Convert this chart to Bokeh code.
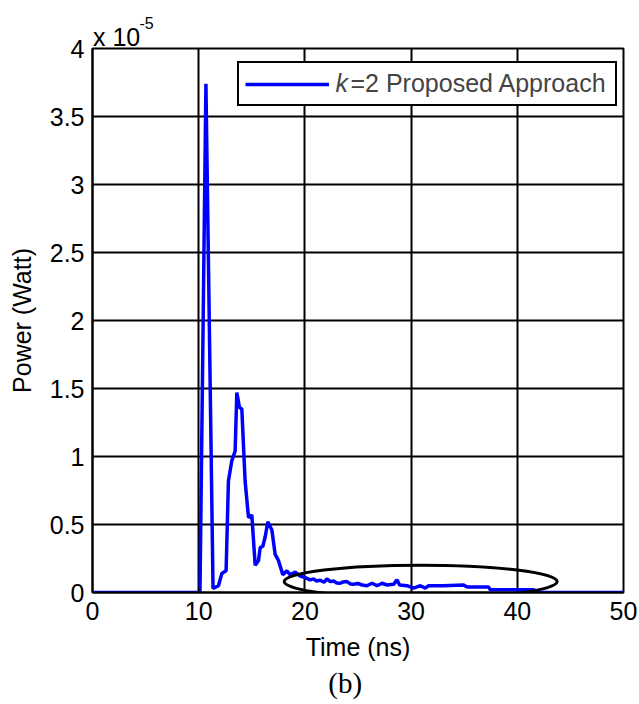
from bokeh.plotting import figure
from bokeh.models import Legend, LegendItem, FixedTicker, Range1d
from bokeh.core.properties import value
from bokeh.embed import file_html
from bokeh.resources import INLINE

# Received power of the k=2 approach, in units of 1e-5 W, against time in ns
time_ns = [0.0, 10.12, 10.68, 11.35, 11.86, 12.18, 12.58, 12.8, 13.12, 13.43,
           13.59, 13.84, 14.06, 14.37, 14.69, 15.0, 15.32, 15.63, 15.79, 16.04,
           16.26, 16.51, 16.89, 17.2, 17.51, 17.92, 18.3, 18.61, 19.09, 19.56,
           20.03, 20.5, 20.81, 21.1, 21.44, 21.8, 22.07, 22.4, 22.7, 23.0,
           23.33, 23.6, 23.96, 24.3, 24.58, 25.0, 25.4, 25.84, 26.31, 26.79,
           27.26, 27.73, 28.35, 28.67, 28.92, 29.61, 30.24, 30.87, 31.34, 31.65,
           33.0, 34.95, 35.27, 37.3, 37.46, 41.55, 42.18, 50.0]
power_e5 = [0.0, 0.0, 3.74, 0.03, 0.05, 0.14, 0.16, 0.82, 0.97, 1.04,
            1.47, 1.36, 1.35, 0.82, 0.55, 0.57, 0.2, 0.235, 0.33, 0.34,
            0.41, 0.52, 0.46, 0.28, 0.235, 0.13, 0.16, 0.13, 0.15, 0.12,
            0.11, 0.093, 0.1, 0.085, 0.09, 0.075, 0.1, 0.08, 0.085, 0.07,
            0.068, 0.078, 0.08, 0.062, 0.06, 0.066, 0.055, 0.05, 0.068, 0.05,
            0.068, 0.055, 0.06, 0.093, 0.055, 0.05, 0.032, 0.05, 0.032, 0.05,
            0.05, 0.055, 0.04, 0.04, 0.02, 0.02, 0.0, 0.0]

x_ticks = [0, 10, 20, 30, 40, 50]
y_ticks = [0, 0.5, 1, 1.5, 2, 2.5, 3, 3.5, 4]
y_tick_labels = ["0", "0.5", "1", "1.5", "2", "2.5", "3", "3.5", "4"]

# Region of the slowly decaying tail that is circled
tail_center = (30.9, 0.08)
tail_size = (25.7, 0.24)

FONT = "Liberation Sans"
FS = "25px"

p = figure(width=639, height=704, output_backend="svg", toolbar_location=None,
           x_range=Range1d(0, 50), y_range=Range1d(0, 4),
           min_border_left=92, min_border_right=16,
           min_border_top=48, min_border_bottom=112)
p.background_fill_color = "white"
p.border_fill_color = "white"
p.outline_line_color = "black"
p.outline_line_width = 2

for ax in (p.xaxis[0], p.yaxis[0]):
    ax.axis_line_color = "black"
    ax.axis_line_width = 2
    ax.major_tick_in = 6
    ax.major_tick_out = 0
    ax.major_tick_line_color = "black"
    ax.minor_tick_line_color = None
    ax.major_label_text_font = FONT
    ax.major_label_text_font_size = FS
    ax.major_label_text_color = "black"
    ax.axis_label_text_font = FONT
    ax.axis_label_text_font_size = FS
    ax.axis_label_text_font_style = "normal"
    ax.axis_label_text_color = "black"

p.xaxis.ticker = FixedTicker(ticks=x_ticks)
p.yaxis.ticker = FixedTicker(ticks=y_ticks)
p.yaxis.major_label_overrides = {t: s for t, s in zip(y_ticks, y_tick_labels)}
p.xaxis.axis_label = "Time (ns)"
p.yaxis.axis_label = "Power (Watt)"
p.xaxis.major_label_standoff = 9
p.xaxis.axis_label_standoff = 10
p.yaxis.major_label_standoff = 8
p.yaxis.axis_label_standoff = 11

p.grid.grid_line_color = "black"
p.grid.grid_line_width = 2
p.grid.grid_line_alpha = 1.0

r = p.line(time_ns, power_e5, line_color="#0000ff", line_width=3.5)

p.ellipse(x=tail_center[0], y=tail_center[1], width=tail_size[0], height=tail_size[1],
          fill_color=None, line_color="black", line_width=3)

legend = Legend(items=[LegendItem(label="=2 Proposed Approach", renderers=[r])],
                location=(144.5, 486), margin=0, padding=6, spacing=0,
                glyph_width=84, glyph_height=24, label_standoff=22, label_width=258,
                label_text_font=FONT, label_text_font_size=FS,
                border_line_color="black", border_line_width=2, border_line_alpha=1.0,
                background_fill_color="white", background_fill_alpha=1.0)
p.add_layout(legend)

# italic k in front of the legend text: a second, transparent legend on top
legend_k = Legend(items=[LegendItem(label="k", renderers=[r])],
                  location=(243.5, 494), margin=0, padding=0, spacing=0,
                  glyph_width=0, glyph_height=30, label_standoff=0, label_height=30,
                  label_text_font=FONT, label_text_font_size=FS,
                  label_text_font_style="italic",
                  border_line_alpha=0.0, background_fill_alpha=0.0)
p.add_layout(legend_k)

# axis multiplier at the top of the y axis
p.text(x=[0], y=[4], text=["x 10"], x_offset=0.5, y_offset=-12,
       text_font=value(FONT), text_font_size=FS, text_baseline="alphabetic",
       text_align="left", text_color="black", level="overlay")
p.text(x=[0], y=[4], text=["-5"], x_offset=47, y_offset=-26,
       text_font=value(FONT), text_font_size="16px", text_baseline="alphabetic",
       text_align="left", text_color="black", level="overlay")

# sub-figure caption
p.text(x=[23.8], y=[0], text=["(b)"], y_offset=90,
       text_font=value("Liberation Serif"), text_font_size="29px",
       text_baseline="middle", text_align="center", text_color="black",
       level="overlay")

open("out.html", "w").write(file_html(p, INLINE))
